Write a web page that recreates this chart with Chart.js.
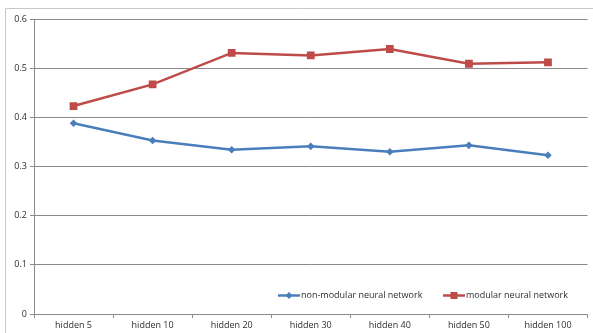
<!DOCTYPE html>
<html>
<head>
<meta charset="utf-8">
<script src="https://cdn.jsdelivr.net/npm/chart.js@4/dist/chart.umd.min.js"></script>
<style>
  html, body { margin: 0; padding: 0; background: #ffffff; }
  #wrap { position: relative; width: 593px; height: 333px; }
</style>
</head>
<body>
<div id="wrap"><canvas id="c" width="593" height="333"></canvas></div>
<script>
// Categories (hidden-layer sizes) and the two series
const categories = ["hidden 5", "hidden 10", "hidden 20", "hidden 30", "hidden 40", "hidden 50", "hidden 100"];
const nonModular = [0.388, 0.353, 0.334, 0.341, 0.330, 0.343, 0.323];
const modular = [0.423, 0.467, 0.531, 0.526, 0.539, 0.509, 0.512];
const yTicks = [0, 0.1, 0.2, 0.3, 0.4, 0.5, 0.6];
const seriesNames = ["non-modular neural network", "modular neural network"];

const BLUE = "#4a7ebb";
const RED = "#be4b48";
const GRID = "#8a8a8a";
const TEXT = "#2e2e2e";
const FONT = "'Open Sans', 'DejaVu Sans', sans-serif";

// Outer frame around the chart object
const framePlugin = {
  id: "frame",
  beforeDraw(chart) {
    const ctx = chart.ctx;
    ctx.save();
    ctx.strokeStyle = "#c8c8c8";
    ctx.lineWidth = 1;
    ctx.beginPath();
    ctx.moveTo(5.5, 333);
    ctx.lineTo(5.5, 8.5);
    ctx.lineTo(593, 8.5);
    ctx.stroke();
    ctx.restore();
  }
};

// Legend drawn inside the plot area, lower right
const innerLegend = {
  id: "innerLegend",
  afterDraw(chart) {
    const ctx = chart.ctx;
    const y = 295.5;
    const items = [
      { x: 278, ds: chart.data.datasets[0] },
      { x: 443, ds: chart.data.datasets[1] }
    ];
    ctx.save();
    ctx.font = "9px " + FONT;
    ctx.textBaseline = "middle";
    items.forEach(it => {
      ctx.strokeStyle = it.ds.borderColor;
      ctx.lineWidth = 2.5;
      ctx.beginPath();
      ctx.moveTo(it.x, y);
      ctx.lineTo(it.x + 22, y);
      ctx.stroke();
      ctx.fillStyle = it.ds.borderColor;
      const cx = it.x + 11;
      if (it.ds.pointStyle === "rectRot") {
        ctx.beginPath();
        ctx.moveTo(cx, y - 3.5);
        ctx.lineTo(cx + 3.5, y);
        ctx.lineTo(cx, y + 3.5);
        ctx.lineTo(cx - 3.5, y);
        ctx.closePath();
        ctx.fill();
      } else {
        ctx.fillRect(cx - 3.5, y - 3.5, 7, 7);
      }
      ctx.fillStyle = TEXT;
      ctx.fillText(it.ds.label, it.x + 23, y);
    });
    ctx.restore();
  }
};

new Chart(document.getElementById("c"), {
  type: "line",
  data: {
    labels: categories,
    datasets: [
      {
        label: seriesNames[0],
        data: nonModular,
        borderColor: BLUE,
        backgroundColor: BLUE,
        borderWidth: 2.5,
        pointStyle: "rectRot",
        pointRadius: 3.8,
        pointBorderWidth: 0,
        tension: 0
      },
      {
        label: seriesNames[1],
        data: modular,
        borderColor: RED,
        backgroundColor: RED,
        borderWidth: 2.5,
        pointStyle: "rect",
        pointRadius: 5.5,
        pointBorderWidth: 0,
        tension: 0
      }
    ]
  },
  options: {
    responsive: false,
    animation: false,
    layout: { padding: { left: 0, right: 5, top: 19, bottom: 0 } },
    plugins: {
      legend: { display: false },
      tooltip: { enabled: false }
    },
    scales: {
      x: {
        offset: true,
        grid: {
          offset: true,
          drawOnChartArea: false,
          drawTicks: true,
          tickLength: 4,
          color: GRID
        },
        border: { color: GRID, width: 1 },
        ticks: {
          color: TEXT,
          font: { family: FONT, size: 9 },
          padding: 2,
          maxRotation: 0,
          autoSkip: false
        },
        afterFit(scale) { scale.height = 19; }
      },
      y: {
        min: 0,
        max: 0.6,
        afterBuildTicks(scale) { scale.ticks = yTicks.map(v => ({ value: v })); },
        grid: {
          color: GRID,
          drawTicks: true,
          tickLength: 4
        },
        border: { color: GRID, width: 1 },
        ticks: {
          color: TEXT,
          font: { family: FONT, size: 9 },
          padding: 3,
          callback: v => String(Math.round(v * 10) / 10)
        },
        afterFit(scale) { scale.width = 34; }
      }
    }
  },
  plugins: [framePlugin, innerLegend]
});
</script>
</body>
</html>
